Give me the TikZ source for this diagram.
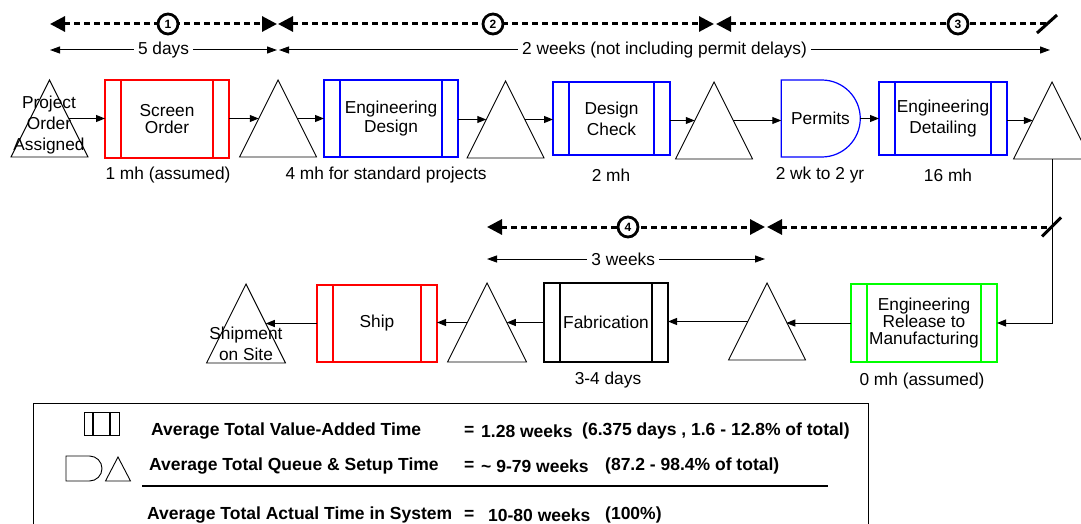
\documentclass[tikz,border=0pt]{standalone}
\usepackage{fontspec}
\setmainfont{Liberation Sans}
\usetikzlibrary{shapes.geometric,shapes.misc,arrows.meta}
\begin{document}
\begin{tikzpicture}[x=1pt,y=-1pt,
  font=\fontsize{17.3}{21}\selectfont,
  box/.style args={#1/#2}{rectangle, draw=#1, line width=1.2pt, inner sep=0pt, outer sep=0pt, align=center,
    path picture={\draw[#1,line width=1.2pt]
      ([xshift=#2pt]path picture bounding box.north west) -- ([xshift=#2pt]path picture bounding box.south west)
      ([xshift=-#2pt]path picture bounding box.north east) -- ([xshift=-#2pt]path picture bounding box.south east);}},
  tri/.style={isosceles triangle, isosceles triangle stretches, shape border rotate=90, draw, line width=0.9pt,
    inner sep=0pt, outer sep=0pt, minimum width=77pt, minimum height=77pt, anchor=apex},
  dshape/.style={rounded rectangle, rounded rectangle left arc=none, inner sep=0pt, outer sep=0pt},
  conn/.style={-{Triangle[length=9pt,width=7pt]}, line width=1pt},
  dim/.style={{Triangle[length=10pt,width=7pt]}-{Triangle[length=10pt,width=7pt]}, line width=1pt},
  dimlbl/.style={fill=white, inner xsep=4pt, inner ysep=1pt},
  phase/.style={line width=3pt, dash pattern=on 6pt off 4pt},
  bighead/.tip={Triangle[length=15pt,width=15pt]},
  circ/.style={circle, draw, line width=2.8pt, fill=white, minimum size=20pt, inner sep=0pt,
    font=\fontsize{12}{12}\selectfont\bfseries},
  slash/.style={line width=3pt},
  leg/.style={font=\fontsize{17.5}{19}\selectfont\bfseries, anchor=west, inner sep=0pt}
]
\useasboundingbox (0,0) rectangle (1081,524);

% ---------- phase bars ----------
\coordinate (p1a) at (50,24);
\coordinate (p1b) at (277,24);
\coordinate (p2a) at (278,24);
\coordinate (p2b) at (714,24);
\coordinate (p3a) at (716,24);
\coordinate (p3b) at (1047,24);
\draw[phase, bighead-bighead] (p1a) -- (p1b);
\draw[phase, bighead-bighead] (p2a) -- (p2b);
\draw[phase, bighead-] (p3a) -- (p3b);
\draw[slash] (p3b) ++(-10,9) -- ++(20,-18);
\node[circ] (c1) at (168,24) {1};
\node[circ] (c2) at (493,24) {2};
\node[circ] (c3) at (958,24) {3};

% ---------- dimension lines ----------
\coordinate (d1a) at (50,50);
\coordinate (d1b) at (277,50);
\coordinate (d2a) at (279,50);
\coordinate (d2b) at (1050,50);
\draw[dim] (d1a) -- (d1b) node[dimlbl, midway] (dl1) {5 days};
\draw[dim] (d2a) -- (d2b) node[dimlbl, midway] (dl2) {2 weeks (not including permit delays)};

% ---------- top row ----------
\node[tri] (t1) at (49.5,80) {};
\node[align=center, inner sep=0pt] (t1l) at (49,125) {Project\\Order\\Assigned};
\node[box=red/16, minimum width=124pt, minimum height=78pt] (so) at (167,119) {Screen\\[-4pt]Order};
\node[tri] (t2) at (278,80) {};
\node[box=blue/16, minimum width=134pt, minimum height=77pt] (ed) at (391,118.5) {Engineering\\[-2pt]Design};
\node[tri] (t3) at (505.5,81) {};
\node[box=blue/16, minimum width=117pt, minimum height=73pt] (dc) at (611.5,118.5) {Design\\Check};
\node[tri] (t4) at (714,82) {};
\node[dshape, draw=blue, line width=1.2pt, minimum width=79pt, minimum height=77pt] (pm) at (820.5,118.5) {Permits};
\node[box=blue/16, minimum width=128pt, minimum height=73pt] (edt) at (943,118.5) {Engineering\\Detailing};
\node[tri] (t5) at (1052,82) {};

\node (l1) at (168,175) {1 mh (assumed)};
\node (l2) at (386,175) {4 mh for standard projects};
\node (l3) at (611,175) {2 mh};
\node (l4) at (820,175) {2 wk to 2 yr};
\node (l5) at (948,175) {16 mh};

\draw[conn] (t1.right side) -- (so.west |- t1.right side);
\draw[conn] (so.east |- t2.left side) -- (t2.left side);
\draw[conn] (t2.right side) -- (ed.west |- t2.right side);
\draw[conn] (ed.east |- t3.left side) -- (t3.left side);
\draw[conn] (t3.right side) -- (dc.west |- t3.right side);
\draw[conn] (dc.east |- t4.left side) -- (t4.left side);
\draw[conn] (t4.right side) -- (pm.west |- t4.right side);
\draw[conn] (pm.east) -- (edt.west);
\draw[conn] (edt.east |- t5.left side) -- (t5.left side);

% ---------- second phase bars ----------
\coordinate (p4a) at (487,227);
\coordinate (p4b) at (765,227);
\coordinate (p5a) at (767,227);
\coordinate (p5b) at (1051,227);
\draw[phase, bighead-bighead] (p4a) -- (p4b);
\draw[phase, bighead-] (p5a) -- (p5b);
\node[circ] (c4) at (628,227) {4};
\coordinate (d3a) at (487,259);
\coordinate (d3b) at (765,259);
\draw[dim] (d3a) -- (d3b) node[dimlbl, pos=0.49] (dl3) {3 weeks};

% ---------- bottom row ----------
\node[box=green/16, minimum width=146pt, minimum height=78pt] (er) at (924,323) {Engineering\\[-4pt]Release to\\[-4pt]Manufacturing};
\node[tri] (t6) at (767,283) {};
\node[box=black/16, minimum width=124pt, minimum height=79pt] (fab) at (606,322.5) {Fabrication};
\node[tri, minimum width=79pt, minimum height=79pt] (t7) at (487,283) {};
\node[box=red/16, minimum width=120pt, minimum height=77pt] (ship) at (377,323.5) {Ship};
\node[tri, minimum width=79pt, minimum height=79pt] (t8) at (246,284) {};
\node[align=center, inner sep=0pt] (t8l) at (246,343.5) {Shipment\\on Site};

\node (l6) at (608,380) {3-4 days};
\node (l7) at (922,381) {0 mh (assumed)};

\draw[conn] (t5.lower side) |- (er.east);
\draw[slash] (p5b) ++(-9,9.5) -- ++(19,-19);
\draw[conn] (er.west) -- (t6.right side |- er.west);
\draw[conn] (t6.left side) -- (fab.east |- t6.left side);
\draw[conn] (fab.west |- t7.right side) -- (t7.right side);
\draw[conn] (t7.left side) -- (ship.east |- t7.left side);
\draw[conn] (ship.west |- t8.right side) -- (t8.right side);

% ---------- legend ----------
\node[draw, line width=1.3pt, minimum width=835pt, minimum height=140pt, anchor=north west, inner sep=0pt] (legend) at (33,403) {};
\node[box=black/9, line width=0.9pt, minimum width=35pt, minimum height=23pt] (ivab) at (101.5,423.5) {};
\node[dshape, draw, line width=0.9pt, minimum width=36pt, minimum height=25pt] (iq) at (84,468.5) {};
\node[tri, minimum width=25pt, minimum height=24pt] (itr) at (118,457) {};
\draw[line width=1.2pt] (142,486) coordinate (hl1) -- (828,486) coordinate (hl2);

\node[leg] (r1a) at (151,431) {Average Total Value-Added Time};
\node[leg] (r1b) at (464,431) {=};
\node[leg] (r1c) at (481,431) {1.28 weeks};
\node[leg] (r1d) at (582,431) {(6.375 days , 1.6 - 12.8\% of total)};
\node[leg] (r2a) at (149,466) {Average Total Queue \& Setup Time};
\node[leg] (r2b) at (464,466) {=};
\node[leg] (r2c) at (481,466) {\textasciitilde\ 9-79 weeks};
\node[leg] (r2d) at (605,466) {(87.2 - 98.4\% of total)};
\node[leg] (r3a) at (147,515) {Average Total Actual Time in System};
\node[leg] (r3b) at (464,515) {=};
\node[leg] (r3c) at (488,515) {10-80 weeks};
\node[leg] (r3d) at (605,515) {(100\%)};
\end{tikzpicture}
\end{document}
